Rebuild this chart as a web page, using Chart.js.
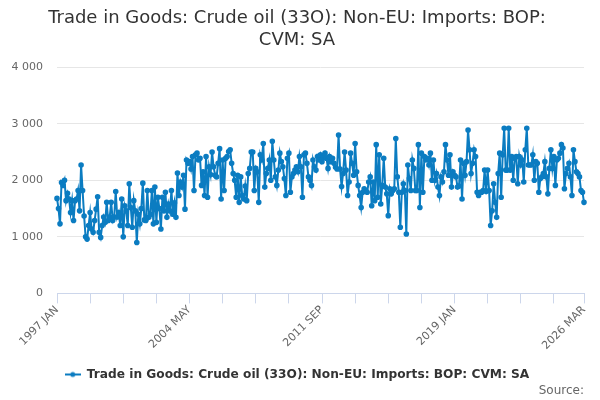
<!DOCTYPE html>
<html>
<head>
<meta charset="utf-8">
<script src="https://cdn.jsdelivr.net/npm/chart.js@4/dist/chart.umd.min.js"></script>
<style>
  html, body { margin: 0; padding: 0; background: #fff; }
  #wrap { width: 600px; height: 400px; }
</style>
</head>
<body>
<div id="wrap"><canvas id="trade_chart"></canvas></div>
<script>
const seriesName = 'Trade in Goods: Crude oil (33O): Non-EU: Imports: BOP: CVM: SA';
const months = ['JAN', 'FEB', 'MAR', 'APR', 'MAY', 'JUN', 'JUL', 'AUG', 'SEP', 'OCT', 'NOV', 'DEC'];
const firstYear = 1997;
const yTicks = [0, 1000, 2000, 3000, 4000];

// one row per year, 1997 JAN .. 2026 MAR
const imports = [
    1680, 1500, 1230, 1960, 1910, 2000, 1640, 1770, 1670, 1430, 1640, 1290,
    1640, 1670, 1820, 1460, 2270, 1820, 1370, 1000, 960, 1200, 1430, 1140,
    1080, 1290, 1490, 1710, 1080, 990, 1200, 1350, 1260, 1610, 1290, 1350,
    1610, 1290, 1350, 1800, 1350, 1430, 1200, 1670, 1000, 1550, 1460, 1200,
    1940, 1520, 1170, 1640, 1460, 900, 1400, 1230, 1500, 1950, 1300, 1290,
    1820, 1345, 1400, 1820, 1230, 1880, 1256, 1700, 1500, 1140, 1700, 1460,
    1790, 1345, 1580, 1460, 1820, 1400, 1600, 1345, 2130, 1730, 1970, 1880,
    2090, 1490, 2360, 2300, 2330, 2200, 2420, 1820, 2450, 2480, 2360, 2390,
    1910, 2150, 1730, 2420, 1700, 2240, 2100, 2500, 2240, 2090, 2060, 2300,
    2560, 1670, 2360, 1820, 2390, 2420, 2510, 2540, 2300, 2120, 2000, 1700,
    2090, 1610, 2060, 1730, 1670, 1900, 1640, 2120, 2210, 2500, 2500, 1820,
    2210, 2150, 1610, 2450, 2360, 2650, 1880, 2120, 2210, 2360, 2000, 2690,
    2360, 2060, 1910, 2180, 2480, 2330, 2240, 2030, 1730, 2390, 2480, 1790,
    2060, 2120, 2180, 2240, 2150, 2420, 2240, 1700, 2450, 2480, 2300, 2060,
    2000, 1910, 2360, 2240, 2180, 2420, 2360, 2450, 2330, 2400, 2480, 2390,
    2210, 2420, 2330, 2390, 2300, 2230, 2200, 2800, 2200, 1890, 2120, 2500,
    2180, 1730, 1970, 2480, 2300, 2090, 2650, 2150, 1910, 1730, 1520, 1790,
    1850, 1820, 1790, 1970, 2060, 1550, 1970, 1640, 2630, 1700, 2450, 1580,
    1910, 2390, 1880, 1760, 1375, 1850, 1760, 1820, 1850, 2740, 2060, 1790,
    1170, 1790, 1940, 1820, 1050, 2270, 2030, 1820, 2360, 2210, 1820, 1820,
    2630, 1520, 2480, 1790, 2420, 2360, 2390, 2270, 2480, 2000, 2360, 2000,
    2120, 1880, 1730, 2060, 1970, 2150, 2630, 2360, 2090, 2450, 1880, 2150,
    2090, 2060, 1880, 1900, 2360, 1670, 2300, 2090, 2330, 2890, 2540, 2120,
    2300, 2540, 2420, 1790, 1730, 1790, 1790, 1820, 2180, 1800, 2180, 1820,
    1200, 1460, 1940, 1610, 1345, 2120, 2480, 1700, 2450, 2920, 2180, 2180,
    2920, 2180, 2420, 2000, 2390, 2420, 1940, 2420, 2270, 2360, 1970, 2540,
    2920, 2270, 2270, 2270, 2450, 2000, 2330, 2300, 1790, 2030, 2060, 2120,
    2330, 2060, 1760, 2210, 2540, 2210, 2420, 1910, 2360, 2390, 2480, 2630,
    2570, 1850, 2120, 2210, 2300, 2060, 1730, 2540, 2330, 2150, 2120, 2060,
    1820, 1790, 1610
];

const labels = imports.map((v, i) => `${firstYear + Math.floor(i / 12)} ${months[i % 12]}`);

const lineColor = '#0b7cc1';

// legend symbol: short line with a dot on it
function legendSymbol() {
    let c = document.createElement('canvas');
    c.width = 16; c.height = 8;
    let ctx = c.getContext('2d');
    ctx.strokeStyle = lineColor;
    ctx.lineWidth = 2;
    ctx.beginPath();
    ctx.moveTo(0, 4); ctx.lineTo(16, 4);
    ctx.stroke();
    ctx.fillStyle = lineColor;
    ctx.beginPath();
    ctx.arc(8, 4, 2.5, 0, Math.PI * 2);
    ctx.fill();
    return c;
}

function spaced(n) {
    return String(n).replace(/\B(?=(\d{3})+(?!\d))/g, ' ');
}

Chart.defaults.font.family = 'DejaVu Sans';
Chart.defaults.color = '#666';

let chart = document.getElementById('trade_chart');
let data = {
    labels: labels,
    datasets: [{
        label: seriesName,
        data: imports,
        borderColor: lineColor,
        backgroundColor: lineColor,
        borderWidth: 2,
        pointRadius: 1.8,
        pointHoverRadius: 3,
        pointStyle: 'circle',
        tension: 0
    }]
};

let config = {
    type: 'line',
    data,
    options: {
        responsive: true,
        maintainAspectRatio: false,
        animation: false,
        layout: { padding: { left: 10, right: 16, top: 8, bottom: 2 } },
        plugins: {
            title: {
                display: true,
                text: ['Trade in Goods: Crude oil (33O): Non-EU: Imports: BOP:', 'CVM: SA'],
                color: '#333',
                font: { size: 18, weight: 'normal' },
                padding: { top: 0, bottom: 16 },
                lineHeight: 1.15
            },
            subtitle: {
                display: true,
                position: 'bottom',
                align: 'end',
                text: 'Source:',
                color: '#666',
                font: { size: 12 },
                padding: { top: -7, bottom: 0 }
            },
            legend: {
                position: 'bottom',
                labels: {
                    usePointStyle: true,
                    pointStyle: legendSymbol(),
                    pointStyleWidth: 16,
                    color: '#333',
                    font: { size: 12.2, weight: 'bold' },
                    padding: 4
                }
            },
            tooltip: { enabled: false }
        },
        scales: {
            x: {
                offset: false,
                afterFit: function(axis) {
                    axis.height = 71;
                },
                grid: {
                    drawOnChartArea: false,
                    drawTicks: true,
                    tickLength: 10,
                    color: '#ccd6eb'
                },
                border: { color: '#ccd6eb' },
                ticks: {
                    autoSkip: false,
                    minRotation: 45,
                    maxRotation: 45,
                    padding: 0,
                    font: { size: 11 },
                    callback: function(value, index) {
                        if (index % 88 === 0 || index === imports.length - 1) return labels[index];
                        if (index % 22 === 0) return '';
                        return null;
                    }
                }
            },
            y: {
                min: yTicks[0],
                max: yTicks[yTicks.length - 1],
                afterBuildTicks: function(axis) {
                    axis.ticks = yTicks.map(v => ({ value: v }));
                },
                afterFit: function(axis) {
                    axis.width = 47;
                },
                grid: { color: '#e6e6e6', drawTicks: false },
                border: { display: false },
                ticks: {
                    padding: 14,
                    font: { size: 11 },
                    callback: v => spaced(v)
                }
            }
        }
    }
};

let trade_chart = new Chart(chart, config);
</script>
</body>
</html>
